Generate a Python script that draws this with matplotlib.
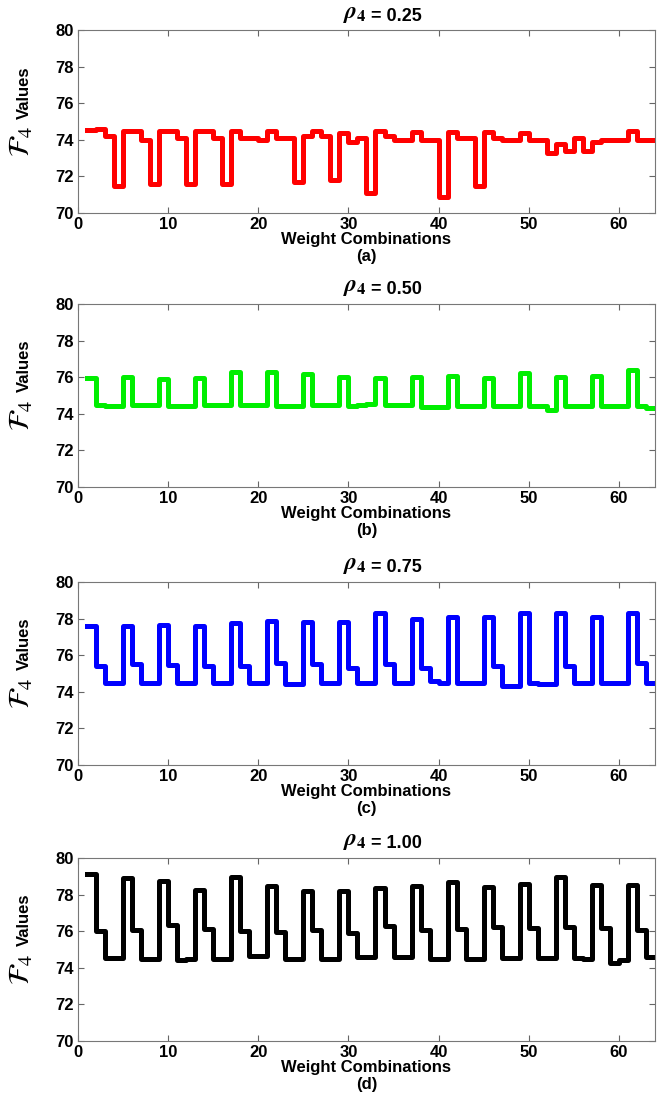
import numpy as np
import matplotlib.pyplot as plt

plt.rcParams['font.family'] = ['Liberation Sans', 'DejaVu Sans']
plt.rcParams['mathtext.fontset'] = 'custom'
plt.rcParams['mathtext.it'] = 'STIXGeneral:italic:bold'
plt.rcParams['mathtext.rm'] = 'STIXGeneral:bold'

combos = np.arange(1, 65)

f4_rho025 = [74.55, 74.6, 74.2, 71.5, 74.5, 74.5, 74.0, 71.6, 74.5, 74.5, 74.1, 71.6,
             74.5, 74.5, 74.1, 71.6, 74.5, 74.1, 74.1, 74.0, 74.5, 74.1, 74.1, 71.7,
             74.2, 74.5, 74.2, 71.8, 74.4, 73.9, 74.1, 71.1, 74.5, 74.2, 74.0, 74.0,
             74.45, 74.0, 74.0, 70.9, 74.45, 74.1, 74.1, 71.5, 74.45, 74.1, 74.0, 74.0,
             74.4, 74.0, 74.0, 73.3, 73.8, 73.4, 74.1, 73.4, 73.9, 74.0, 74.0, 74.0,
             74.5, 74.0, 74.0, 74.0]
f4_rho050 = [75.95, 74.5, 74.45, 74.45, 76.0, 74.5, 74.5, 74.5, 75.9, 74.4, 74.4, 74.4,
             75.95, 74.5, 74.5, 74.5, 76.3, 74.5, 74.5, 74.5, 76.3, 74.45, 74.45, 74.45,
             76.15, 74.5, 74.5, 74.5, 76.0, 74.45, 74.5, 74.55, 75.97, 74.47, 74.47, 74.47,
             76.0, 74.38, 74.38, 74.38, 76.05, 74.45, 74.45, 74.45, 75.97, 74.4, 74.4, 74.4,
             76.2, 74.4, 74.4, 74.2, 76.0, 74.4, 74.4, 74.4, 76.08, 74.4, 74.4, 74.4,
             76.4, 74.4, 74.3, 74.3]
f4_rho075 = [77.6, 75.4, 74.5, 74.5, 77.6, 75.5, 74.5, 74.5, 77.66, 75.45, 74.5, 74.5,
             77.6, 75.4, 74.5, 74.5, 77.75, 75.4, 74.5, 74.5, 77.85, 75.55, 74.45, 74.45,
             77.8, 75.5, 74.5, 74.5, 77.8, 75.3, 74.5, 74.5, 78.3, 75.5, 74.47, 74.47,
             77.95, 75.3, 74.6, 74.5, 78.1, 74.5, 74.5, 74.5, 78.1, 75.4, 74.3, 74.3,
             78.3, 74.5, 74.45, 74.45, 78.3, 75.4, 74.5, 74.5, 78.1, 74.5, 74.5, 74.5,
             78.3, 75.55, 74.5, 74.5]
f4_rho100 = [79.1, 76.0, 74.53, 74.53, 78.9, 76.08, 74.5, 74.5, 78.72, 76.35, 74.45, 74.5,
             78.27, 76.1, 74.5, 74.5, 78.94, 76.0, 74.65, 74.65, 78.45, 75.93, 74.5, 74.5,
             78.18, 76.04, 74.5, 74.5, 78.2, 75.9, 74.58, 74.58, 78.36, 76.26, 74.58, 74.58,
             78.45, 76.04, 74.5, 74.5, 78.67, 76.11, 74.49, 74.49, 78.4, 76.22, 74.53, 74.53,
             78.58, 76.17, 74.53, 74.53, 78.96, 76.22, 74.53, 74.5, 78.54, 76.17, 74.25, 74.4,
             78.54, 76.04, 74.58, 74.58]

series = [f4_rho025, f4_rho050, f4_rho075, f4_rho100]
rho_labels = ['0.25', '0.50', '0.75', '1.00']
colors = ['#ff0000', '#00ee00', '#0000ff', '#000000']
letters = ['(a)', '(b)', '(c)', '(d)']

fig = plt.figure(figsize=(6.62, 11.08), dpi=100)
bottoms = [0.8077, 0.5605, 0.3096, 0.0605]

for i in range(4):
    ax = fig.add_axes([0.1178, bottoms[i], 0.8716, 0.1652])
    ax.step(combos, series[i], where='post', color=colors[i], lw=3.6)
    ax.set_xlim(0, 64)
    ax.set_ylim(70, 80)
    ax.set_xticks(range(0, 61, 10))
    ax.set_yticks(range(70, 81, 2))
    ax.tick_params(direction='in', top=True, right=True, length=4,
                   colors='#666666', labelcolor='black', labelsize=12, pad=3)
    for lbl in ax.get_xticklabels() + ax.get_yticklabels():
        lbl.set_fontweight('bold')
    for s in ax.spines.values():
        s.set_color('#777777')
        s.set_linewidth(0.8)
    # title: bold italic rho with subscript
    ax.text(0.5, 1.03, r'$\rho_\mathrm{4}$', transform=ax.transAxes,
            ha='right', va='bottom', fontsize=17)
    ax.text(0.5, 1.03, ' = ' + rho_labels[i], transform=ax.transAxes,
            ha='left', va='bottom', fontsize=13, fontweight='bold')
    ax.set_xlabel('Weight Combinations\n' + letters[i], fontsize=12,
                  fontweight='bold', labelpad=0, linespacing=1.15)
    # y label: big script F with subscript, then "Values"
    ax.text(-0.093, 0.66, 'Values', rotation=90, transform=ax.transAxes,
            ha='center', va='center', fontsize=12, fontweight='bold')
    ax.text(-0.098, 0.39, r'$\mathcal{F}_4$', rotation=90, transform=ax.transAxes,
            ha='center', va='center', fontsize=21, math_fontfamily='stix')

fig.savefig('out.png', dpi=100)
